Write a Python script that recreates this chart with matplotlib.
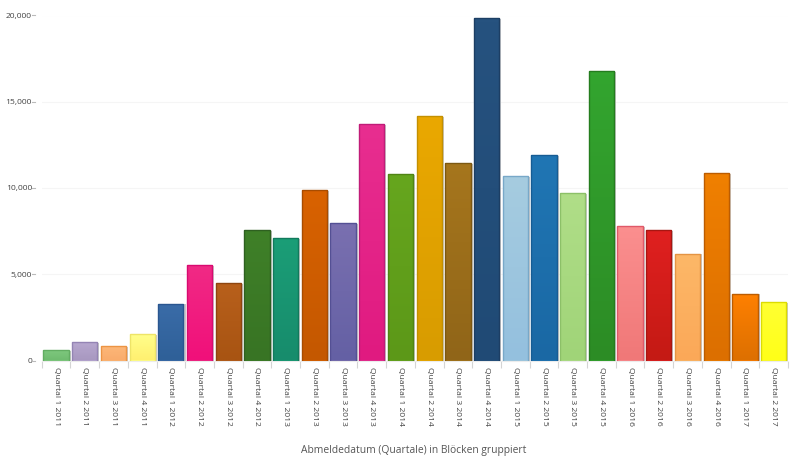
import numpy as np
import matplotlib.pyplot as plt
from matplotlib.colors import to_rgb
from matplotlib.ticker import FuncFormatter

labels = ['Quartal 1 2011', 'Quartal 2 2011', 'Quartal 3 2011', 'Quartal 4 2011',
          'Quartal 1 2012', 'Quartal 2 2012', 'Quartal 3 2012', 'Quartal 4 2012',
          'Quartal 1 2013', 'Quartal 2 2013', 'Quartal 3 2013', 'Quartal 4 2013',
          'Quartal 1 2014', 'Quartal 2 2014', 'Quartal 3 2014', 'Quartal 4 2014',
          'Quartal 1 2015', 'Quartal 2 2015', 'Quartal 3 2015', 'Quartal 4 2015',
          'Quartal 1 2016', 'Quartal 2 2016', 'Quartal 3 2016', 'Quartal 4 2016',
          'Quartal 1 2017', 'Quartal 2 2017']
values = [600, 1060, 830, 1530, 3300, 5550, 4480, 7560, 7100, 9880, 7960, 13720,
          10830, 14150, 11450, 19850, 10700, 11930, 9700, 16800, 7780, 7570, 6200,
          10850, 3880, 3380]
top_colors = ['#7fc97f', '#b8a8d0', '#fdb87a', '#ffff8c', '#3a6ca8', '#f02a85', '#b8601c',
              '#3f8028', '#1b9e77', '#d96200', '#7a70b0', '#e82e90', '#66a61e', '#eaa800',
              '#a6761d', '#26527f', '#a6cce0', '#2076b4', '#b0de88', '#33a52f', '#fb8f8f',
              '#e02020', '#fdb868', '#f08000', '#ff8000', '#ffff33']
bottom_colors = ['#70bc70', '#a898c0', '#f9ac6c', '#fff070', '#2f6098', '#f0107a', '#a85412',
                 '#387424', '#178c6c', '#c45800', '#6460a4', '#e01a80', '#5c9818', '#d89c00',
                 '#906518', '#204a75', '#94c0de', '#1a68a4', '#a0d478', '#2c8c25', '#f07878',
                 '#c41a14', '#fba858', '#dc6f00', '#dd7000', '#ffff18']
edge_colors = ['#62ad62', '#9484b4', '#ec9444', '#eee468', '#2a5690', '#d80a70', '#8e4510',
               '#2e6020', '#127a5c', '#a84c00', '#545094', '#c01c78', '#508414', '#c49000',
               '#7c5812', '#1c3e64', '#78a8c8', '#165c94', '#8cc068', '#247c1e', '#e05868',
               '#a81612', '#e49444', '#bc5c00', '#bc5c00', '#dcdc00']
yticks = [0, 5000, 10000, 15000, 20000]

fig = plt.figure(figsize=(8, 4.59), dpi=100)
ax = fig.add_axes([41.7 / 800, 1 - 360.5 / 459, (788 - 41.7) / 800, 345 / 459])

x = np.arange(len(values))
w = 0.88
ramp = np.linspace(0, 1, 64)[:, None, None]

for i, v in enumerate(values):
    # grey shadow to the right and below
    ax.bar(x[i] + 0.07, v + 60, width=w, bottom=-110, color='#c8c8c8', linewidth=0,
           zorder=2, clip_on=False)
    bar = ax.bar(x[i], v, width=w, color=top_colors[i], linewidth=0, zorder=3)[0]
    c1 = np.array(to_rgb(top_colors[i]))
    c2 = np.array(to_rgb(bottom_colors[i]))
    im = ax.imshow(c1 + (c2 - c1) * ramp, extent=[x[i] - w / 2, x[i] + w / 2, 0, v],
                   aspect='auto', origin='upper', zorder=3.5)
    im.set_clip_path(bar)
    ax.bar(x[i], v, width=w, fill=False, edgecolor=edge_colors[i], linewidth=1, zorder=4)

ax.set_xlim(-0.5, len(values) - 0.5)
ax.set_ylim(0, 20000)

ax.set_xticks(np.arange(len(values) + 1) - 0.5, minor=False)
ax.set_xticklabels([])
ax.set_xticks(x, minor=True)
ax.set_xticklabels(labels, minor=True, rotation=-90, fontsize=6.1, color='#444444',
                   family='Open Sans')
ax.tick_params(axis='x', which='major', length=5, width=0.8, color='#d4d4d4')
ax.tick_params(axis='x', which='minor', length=0, pad=5)

ax.set_yticks(yticks)
ax.yaxis.set_major_formatter(FuncFormatter(lambda v, p: f'{int(v):,}'))
ax.tick_params(axis='y', length=0, labelsize=6.1, labelcolor='#444444', pad=7)
for t in ax.get_yticklabels():
    t.set_family('Open Sans')
# the small y ticks sit next to the labels, away from the axis
for t in yticks:
    ax.plot([-0.013, -0.009], [t, t], transform=ax.get_yaxis_transform(), color='#bbbbbb',
            linewidth=0.8, clip_on=False)

ax.grid(axis='y', color='#f5f5f5', linewidth=0.8, zorder=0)
ax.set_axisbelow(True)
for s in ['top', 'right', 'left']:
    ax.spines[s].set_visible(False)
ax.spines['bottom'].set_color('#ececec')

fig.text(414 / 800, 1 - 450 / 459, 'Abmeldedatum (Quartale) in Blöcken gruppiert',
         ha='center', va='center', fontsize=7.4, color='#555555', family='Open Sans')

fig.savefig('out.png', dpi=100)
